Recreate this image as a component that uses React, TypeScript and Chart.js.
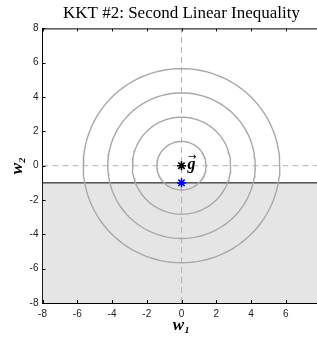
import React, { useEffect, useRef } from "react";
import { Chart, registerables } from "chart.js";

Chart.register(...registerables);

const titleText = "KKT #2: Second Linear Inequality";
const axisMin = -8;
const axisMax = 8;
const tickStep = 2;
const contourCenter = { x: 0, y: 0 };
const contourRadii = [1.414, 2.828, 4.243, 5.657];
const gradientPoint = [{ x: 0, y: 0 }];
const solutionPoint = [{ x: 0, y: -1 }];
const constraintY = -1;
const gLabel = "g";

const CIRCLE_COLOR = "#a8a8a8";
const DASH_COLOR = "#b4b4b4";
const SHADE_COLOR = "#e5e5e5";

function circlePoints(r: number) {
  const pts: { x: number; y: number }[] = [];
  const n = 120;
  for (let i = 0; i <= n; i++) {
    const a = (i / n) * Math.PI * 2;
    pts.push({ x: contourCenter.x + r * Math.cos(a), y: contourCenter.y + r * Math.sin(a) });
  }
  return pts;
}

const boxPlugin = {
  id: "boxTicks",
  afterDatasetsDraw(chart: any) {
    const { ctx, scales } = chart;
    const xs = scales.x;
    const ys = scales.y;
    ctx.save();
    const gx = xs.getPixelForValue(gradientPoint[0].x);
    const gy = ys.getPixelForValue(gradientPoint[0].y);
    ctx.fillStyle = "#000";
    ctx.font = "italic bold 16px 'Liberation Serif'";
    ctx.textAlign = "left";
    ctx.textBaseline = "alphabetic";
    ctx.fillText(gLabel, gx + 6, gy + 3);
    ctx.font = "10px 'DejaVu Sans'";
    ctx.fillText("\u2192", gx + 6.5, gy - 6);
    ctx.restore();
  },
  afterDraw(chart: any) {
    const { ctx, chartArea, scales } = chart;
    const xs = scales.x;
    const ys = scales.y;
    ctx.save();
    ctx.strokeStyle = "#000";
    ctx.lineWidth = 1;
    ctx.beginPath();
    ctx.moveTo(chartArea.left, chartArea.top + 0.5);
    ctx.lineTo(chartArea.right, chartArea.top + 0.5);
    const tl = 3;
    xs.ticks.forEach((t: any) => {
      const px = Math.round(xs.getPixelForValue(t.value)) + 0.5;
      ctx.moveTo(px, chartArea.bottom);
      ctx.lineTo(px, chartArea.bottom - tl);
      ctx.moveTo(px, chartArea.top);
      ctx.lineTo(px, chartArea.top + tl);
    });
    ys.ticks.forEach((t: any) => {
      const py = Math.round(ys.getPixelForValue(t.value)) + 0.5;
      ctx.moveTo(chartArea.left, py);
      ctx.lineTo(chartArea.left + tl, py);
      ctx.moveTo(chartArea.right, py);
      ctx.lineTo(chartArea.right - tl, py);
    });
    ctx.stroke();
    ctx.restore();
  },
};

export default function App() {
  const ref = useRef<HTMLCanvasElement | null>(null);
  useEffect(() => {
    document.body.style.margin = "0";
    document.body.style.overflow = "hidden";
    if (!ref.current) return;
    const circleSets = contourRadii.map((r) => ({
      data: circlePoints(r),
      showLine: true,
      borderColor: CIRCLE_COLOR,
      borderWidth: 1.4,
      pointRadius: 0,
      fill: false,
      tension: 0,
    }));
    const chart = new Chart(ref.current, {
      type: "scatter",
      data: {
        datasets: [
          {
            data: solutionPoint,
            pointStyle: "star",
            pointRadius: 4.5,
            borderColor: "#0000ff",
            backgroundColor: "#0000ff",
            borderWidth: 1.6,
          },
          {
            data: gradientPoint,
            pointStyle: "star",
            pointRadius: 4.5,
            borderColor: "#000",
            backgroundColor: "#000",
            borderWidth: 1.6,
          },
          ...circleSets,
          {
            data: [{ x: 0, y: axisMin }, { x: 0, y: axisMax }],
            showLine: true,
            borderColor: DASH_COLOR,
            borderWidth: 1,
            borderDash: [6, 4],
            pointRadius: 0,
          },
          {
            data: [{ x: axisMin, y: 0 }, { x: axisMax, y: 0 }],
            showLine: true,
            borderColor: DASH_COLOR,
            borderWidth: 1,
            borderDash: [6, 4],
            pointRadius: 0,
          },
          {
            data: [{ x: axisMin, y: constraintY }, { x: axisMax, y: constraintY }],
            showLine: true,
            borderColor: "#000",
            borderWidth: 1,
            backgroundColor: SHADE_COLOR,
            fill: "start",
            pointRadius: 0,
          },
        ] as any,
      },
      options: {
        responsive: false,
        animation: false,
        layout: { padding: { left: 0, right: 42.5, top: 0, bottom: 0 } },
        plugins: {
          legend: { display: false },
          tooltip: { enabled: false },
          title: {
            display: true,
            fullSize: false,
            text: titleText,
            color: "#000",
            font: { family: "'Liberation Serif'", size: 17, weight: "normal" },
            padding: { top: 3, bottom: 5 },
          },
        },
        scales: {
          x: {
            type: "linear",
            min: axisMin,
            max: axisMax,
            grid: { display: false, drawTicks: false },
            border: { display: true, color: "#000", width: 1 },
            ticks: {
              stepSize: tickStep,
              color: "#222",
              padding: 5,
              maxRotation: 0,
              font: { family: "'Liberation Sans'", size: 10 },
            },
            title: {
              display: true,
              text: "w\u2081",
              color: "#000",
              font: { family: "'Liberation Serif'", size: 17, style: "italic", weight: "bold" },
              padding: { top: 2, bottom: 3 },
            },
            afterFit: (s: any) => {
              s.height = 36;
            },
          },
          y: {
            type: "linear",
            min: axisMin,
            max: axisMax,
            grid: { display: false, drawTicks: false },
            border: { display: true, color: "#000", width: 1 },
            ticks: {
              stepSize: tickStep,
              color: "#222",
              padding: 4,
              font: { family: "'Liberation Sans'", size: 10 },
            },
            title: {
              display: true,
              text: "w\u2082",
              color: "#000",
              font: { family: "'Liberation Serif'", size: 17, style: "italic", weight: "bold" },
              padding: { top: 7, bottom: 2 },
            },
            afterFit: (s: any) => {
              s.width = 42.5;
            },
          },
        },
      },
      plugins: [boxPlugin],
    });
    return () => chart.destroy();
  }, []);
  return (
    <div style={{ position: "fixed", left: 0, top: 0, width: 317, height: 339, overflow: "hidden", background: "#fff" }}>
      <canvas ref={ref} width={363} height={339} style={{ width: 363, height: 339, display: "block" }} />
    </div>
  );
}
